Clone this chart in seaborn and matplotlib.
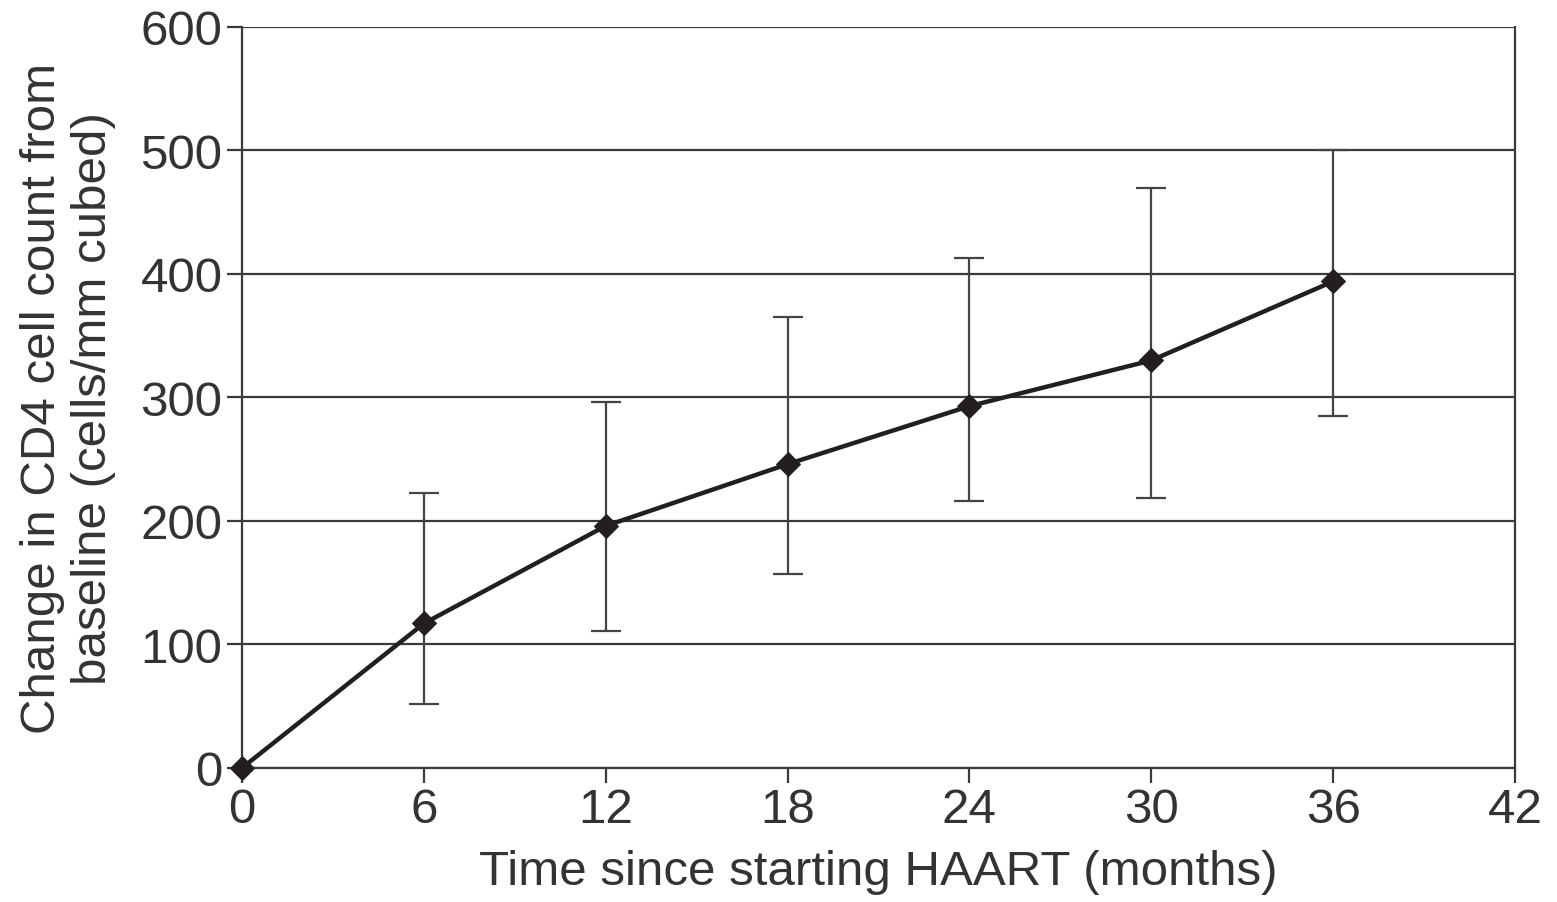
import matplotlib
matplotlib.use("Agg")
import matplotlib.pyplot as plt
import seaborn as sns
import pandas as pd

months = [0, 6, 12, 18, 24, 30, 36]
change = [0, 117, 196, 246, 293, 330, 394]
err_low = [0, 52, 111, 157, 216, 219, 285]
err_high = [0, 223, 296, 365, 413, 470, 500]
x_ticks = [0, 6, 12, 18, 24, 30, 36, 42]
y_ticks = [0, 100, 200, 300, 400, 500, 600]

sns.set_theme(style="white")
plt.rcParams['font.family'] = ['Liberation Sans', 'DejaVu Sans']

grey = "#3a3a3a"
fig = plt.figure(figsize=(15.57, 9.03), dpi=100)
ax = fig.add_axes([0.1554, 0.1484, 0.973 - 0.1554, 0.969 - 0.1484])

df = pd.DataFrame({"month": months, "change": change})

xe = months[1:]
ye = change[1:]
lo = [c - l for c, l in zip(change[1:], err_low[1:])]
hi = [h - c for c, h in zip(change[1:], err_high[1:])]
ax.errorbar(xe, ye, yerr=[lo, hi], fmt='none', ecolor="#444444", elinewidth=1.6,
            capsize=11, capthick=1.6, zorder=2)

sns.lineplot(data=df, x="month", y="change", ax=ax, color="#231f20", linewidth=3.2,
             marker="D", markersize=12, markeredgecolor="#231f20",
             markerfacecolor="#231f20", zorder=3, clip_on=False)

ax.set_xlim(0, 42)
ax.set_ylim(0, 600)
ax.set_xticks(x_ticks)
ax.set_yticks(y_ticks)
ax.yaxis.grid(True, color=grey, linewidth=1.6)
ax.xaxis.grid(False)
ax.set_axisbelow(True)

for side in ["left", "right", "bottom"]:
    ax.spines[side].set_visible(True)
    ax.spines[side].set_color(grey)
    ax.spines[side].set_linewidth(1.6)
ax.spines["top"].set_visible(False)

ax.tick_params(axis="both", which="major", direction="out", length=11, width=1.6,
               color=grey, labelsize=35.5, labelcolor="#333333", pad=3,
               left=True, bottom=True)

ax.set_xlabel("Time since starting HAART (months)", fontsize=35.5, color="#333333", labelpad=12)
ax.set_ylabel("Change in CD4 cell count from\nbaseline (cells/mm cubed)", fontsize=35.5,
              color="#333333", labelpad=18, linespacing=1.15)

fig.savefig("out.png", dpi=100)
